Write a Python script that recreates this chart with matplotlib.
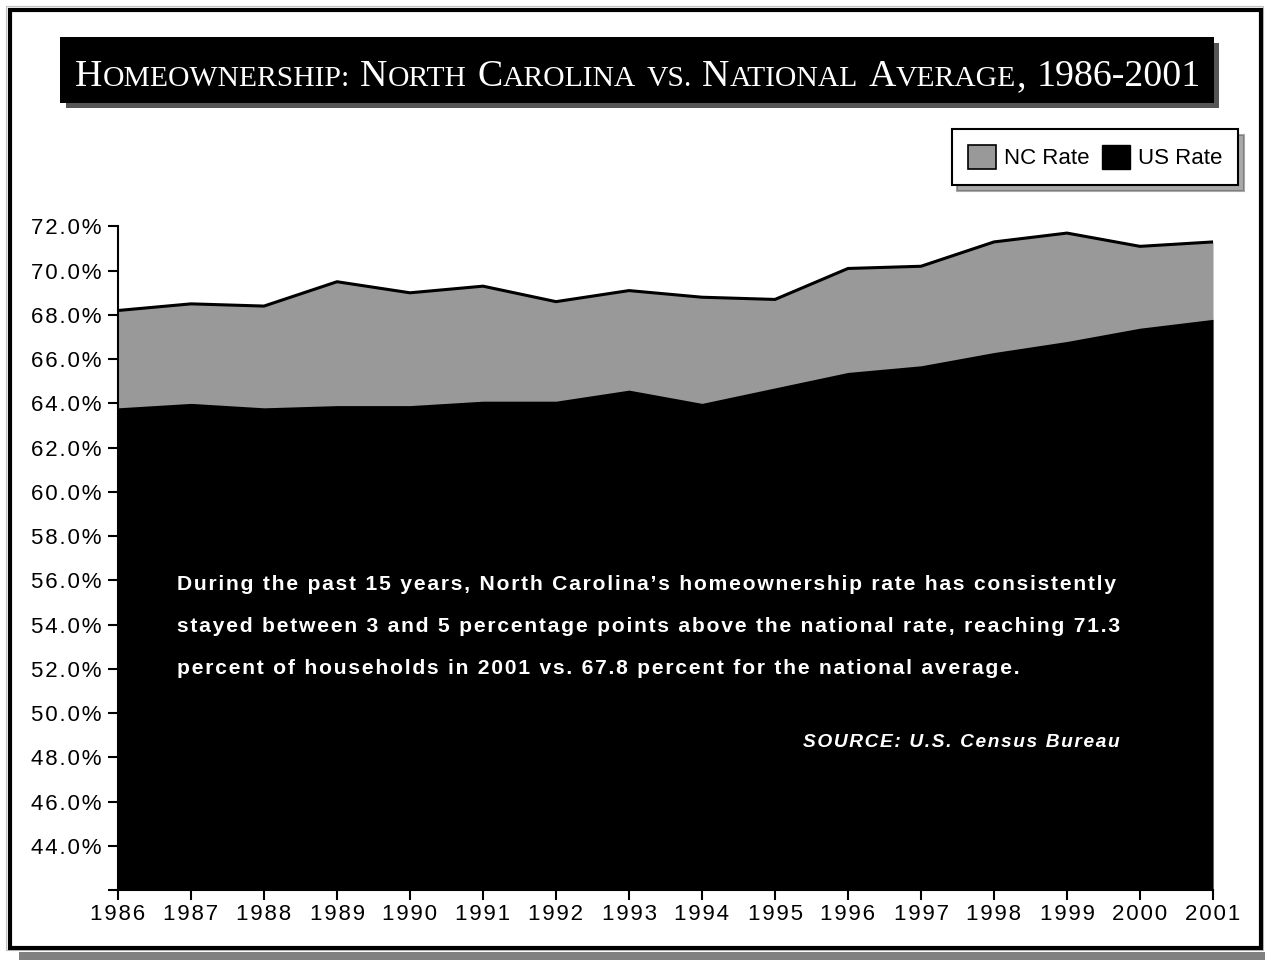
import matplotlib
matplotlib.use('Agg')
import matplotlib.pyplot as plt
from matplotlib.patches import Rectangle, Patch
from matplotlib.transforms import IdentityTransform
from matplotlib.ticker import FuncFormatter

# homeownership rate (%)
years = list(range(1986, 2002))
nc_rate = [68.2, 68.5, 68.4, 69.5, 69.0, 69.3, 68.6, 69.1, 68.8, 68.7, 70.1, 70.2, 71.3, 71.7, 71.1, 71.3]
us_rate = [63.8, 64.0, 63.8, 63.9, 63.9, 64.1, 64.1, 64.6, 64.0, 64.7, 65.4, 65.7, 66.3, 66.8, 67.4, 67.8]
y_ticks = list(range(42, 73, 2))

title = 'Homeownership: North Carolina vs. National Average, 1986-2001'
note = ['During the past 15 years, North Carolina\u2019s homeownership rate has consistently',
        'stayed between 3 and 5 percentage points above the national rate, reaching 71.3',
        'percent of households in 2001 vs. 67.8 percent for the national average.']
source = 'SOURCE: U.S. Census Bureau'

W, H = 1265, 960
GRAY = '#999999'
SHADOW = '#555555'
plt.rcParams['font.family'] = ['Liberation Sans', 'DejaVu Sans']

fig = plt.figure(figsize=(W / 100, H / 100), dpi=100)
px = IdentityTransform()


def spaced(s):
    # the original text is set with a little letter spacing
    return '\u200a'.join(s)


def box(x0, y0, x1, y1, **kw):
    # rectangle given in image pixels (origin top-left)
    fig.patches.append(Rectangle((x0, H - y1), x1 - x0, y1 - y0, transform=px, **kw))


# outer frame with bottom shadow
box(19, 952, W, H, facecolor='#808080', edgecolor='none')
box(6, 6, 1263, 950, facecolor='none', edgecolor='#c0c0c0', linewidth=0.8)
box(10, 10, 1261, 948, facecolor='none', edgecolor='black', linewidth=3)

# title bar
box(66, 43, 1219, 108, facecolor=SHADOW, edgecolor='none')
box(60, 37, 1214, 103, facecolor='black', edgecolor='none')


def small_caps(s, x0, x1, y, size):
    renderer = fig.canvas.get_renderer()
    runs = []
    for c in s:
        kind = 'sp' if c == ' ' else ('s' if c.islower() or c in '.:' else 'b')
        if runs and runs[-1][0] == kind and kind != 'sp':
            runs[-1][1] += c
        else:
            runs.append([kind, c])

    def widths(sz):
        out = []
        for kind, t in runs:
            if kind == 'sp':
                out.append(0.28 * sz * 100 / 72)
                continue
            fs = sz if kind == 'b' else sz * 0.78
            tt = fig.text(0, 0, t.upper(), fontsize=fs, family=['Liberation Serif'])
            out.append(tt.get_window_extent(renderer).width)
            tt.remove()
        return out

    w = widths(size)
    size = size * (x1 - x0) / sum(w)
    w = widths(size)
    x = x0
    for (kind, t), wi in zip(runs, w):
        if kind != 'sp':
            fs = size if kind == 'b' else size * 0.78
            fig.text(x, H - y, t.upper(), fontsize=fs, color='white',
                     family=['Liberation Serif'], transform=px, va='baseline')
        x += wi


small_caps(title, 75, 1196, 86, 26)

# chart
ax = fig.add_axes([118 / W, (H - 890) / H, 1095 / W, 664 / H])
ax.fill_between(years, y_ticks[0], nc_rate, color=GRAY, linewidth=0)
ax.fill_between(years, y_ticks[0], us_rate, color='black', linewidth=0)
ax.plot(years, nc_rate, color='black', linewidth=2.2)
ax.set_xlim(years[0], years[-1])
ax.set_ylim(y_ticks[0], y_ticks[-1] + 0.02)
ax.set_xticks(years)
ax.set_xticklabels([spaced(str(y)) for y in years])
ax.set_yticks(y_ticks)
ax.yaxis.set_major_formatter(FuncFormatter(lambda v, p: '' if v < 43 else spaced('%.1f%%' % v)))
for side in ['top', 'right']:
    ax.spines[side].set_visible(False)
for side in ['left', 'bottom']:
    ax.spines[side].set_linewidth(1.5)
ax.tick_params(axis='both', direction='out', length=7, width=1.5, labelsize=16, colors='black')
ax.tick_params(axis='y', pad=5)
ax.tick_params(axis='x', pad=3)

handles = [Patch(facecolor=GRAY, edgecolor='black', linewidth=1.2, label='NC Rate'),
           Patch(facecolor='black', edgecolor='black', label='US Rate')]
leg = ax.legend(handles=handles, ncol=2, loc='upper right',
                bbox_to_anchor=(1238 / W, 1 - 129 / H), bbox_transform=fig.transFigure,
                fontsize=16, frameon=True, fancybox=False, borderaxespad=0,
                handlelength=1.26, handleheight=1.26, handletextpad=0.36,
                columnspacing=0.55, borderpad=0.72,
                shadow={'ox': 4, 'oy': -4, 'color': SHADOW})
leg.get_frame().set_edgecolor('black')
leg.get_frame().set_linewidth(1.5)

for i, line in enumerate(note):
    fig.text(177, H - (590 + 42 * i), spaced(line), transform=px, color='white',
             fontsize=15.2, fontweight='bold', va='baseline')
fig.text(1120, H - 747, spaced(source), transform=px, color='white', fontsize=13.8,
         fontweight='bold', style='italic', ha='right', va='baseline')

fig.savefig('out.png', dpi=100)
